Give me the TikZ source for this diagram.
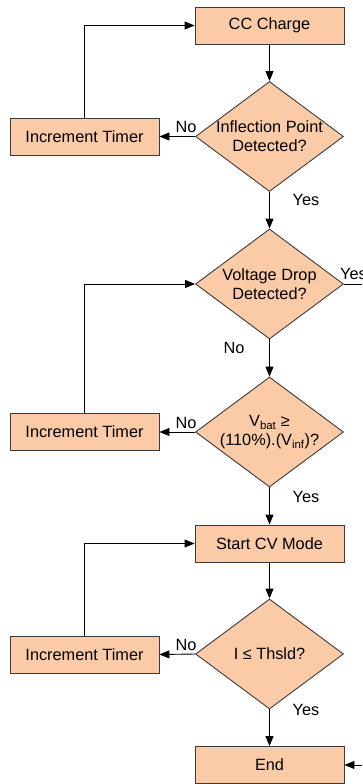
\documentclass[tikz,border=0pt]{standalone}
\usepackage{fontspec}
\setmainfont{Liberation Sans}
\usetikzlibrary{shapes.geometric,arrows.meta}
\definecolor{peach}{RGB}{250,203,166}
\definecolor{edge}{RGB}{60,60,60}
\begin{document}
\begin{tikzpicture}[x=1pt,y=-1pt,
  font=\fontsize{16.3}{19}\selectfont,
  box/.style={draw=edge,fill=peach,line width=0.9pt,rectangle,minimum width=149pt,minimum height=37pt,inner sep=0pt},
  dia/.style={draw=edge,fill=peach,line width=0.9pt,diamond,minimum width=148pt,minimum height=110pt,inner sep=0pt},
  arr/.style={line width=0.9pt,-{Triangle[length=10pt,width=8pt]}},
  ln/.style={line width=0.9pt},
  lab/.style={inner sep=0pt}]
\useasboundingbox (0,0) rectangle (362,784);
\node[box] (cc) at (269.5,25.5) {CC Charge};
\node[dia,label={[align=center]center:Inflection Point\\Detected?}] (d1) at (269.5,136.5) {};
\node[box] (t1) at (84.5,136.5) {Increment Timer};
\node[dia,label={[align=center]center:Voltage Drop\\Detected?}] (d2) at (269.5,284) {};
\node[dia,label={[align=center]center:V\textsubscript{bat} ≥\\(110\%).(V\textsubscript{inf})?}] (d3) at (269.5,432) {};
\node[box] (t2) at (84.5,432) {Increment Timer};
\node[box] (cv) at (269.5,543.5) {Start CV Mode};
\node[dia,label={center:I ≤ Thsld?}] (d4) at (269.5,654) {};
\node[box] (t3) at (84.5,654.5) {Increment Timer};
\node[box] (end) at (269.5,765) {End};
\coordinate (yesout) at (362,284);
\coordinate (endin) at (362,765);

\draw[arr] (cc.south) -- (d1.north);
\draw[arr] (d1.west) -- (t1.east);
\draw[arr] (t1.north) |- (cc.west);
\draw[arr] (d1.south) -- (d2.north);
\draw[ln] (d2.east) -- (yesout);
\draw[arr] (t2.north) |- (d2.west);
\draw[arr] (d2.south) -- (d3.north);
\draw[arr] (d3.west) -- (t2.east);
\draw[arr] (d3.south) -- (cv.north);
\draw[arr] (t3.north) |- (cv.west);
\draw[arr] (cv.south) -- (d4.north);
\draw[arr] (d4.west) -- (t3.east);
\draw[arr] (d4.south) -- (end.north);
\draw[arr] (endin) -- (end.east);

\node[lab] (no1) at (186,127) {No};
\node[lab] (yes1) at (306,200) {Yes};
\node[lab,anchor=west] (yes2) at (340,274) {Yes};
\node[lab] (no2) at (234,348) {No};
\node[lab] (no3) at (186,423) {No};
\node[lab] (yes3) at (306,497) {Yes};
\node[lab] (no4) at (186,645) {No};
\node[lab] (yes4) at (306,710) {Yes};
\end{tikzpicture}
\end{document}
